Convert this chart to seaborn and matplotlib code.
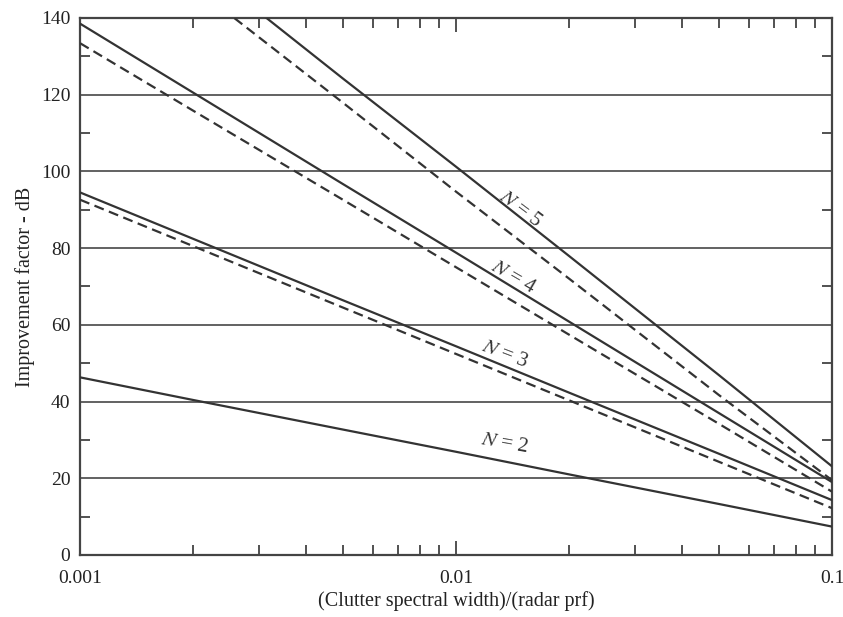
import numpy as np
import pandas as pd
import matplotlib
matplotlib.use("Agg")
import matplotlib.pyplot as plt
import matplotlib.ticker as mticker
import seaborn as sns

# values at these spectral-width ratios
ratio = [0.001, 0.002, 0.005, 0.01, 0.02, 0.05, 0.1]

n2_binomial = [46.3, 40.4, 32.7, 26.9, 21.0, 13.3, 7.4]
n3_binomial = [94.5, 82.4, 66.4, 54.4, 42.3, 26.4, 14.3]
n3_optimum = [92.6, 80.5, 64.5, 52.4, 40.3, 24.3, 12.2]
n4_binomial = [138.5, 120.5, 96.7, 78.8, 60.8, 37.0, 19.0]
n4_optimum = [133.4, 115.8, 92.6, 75.0, 57.4, 34.2, 16.5]
n5_binomial = [178.5, 155.1, 124.2, 101.2, 77.9, 46.9, 23.1]
n5_optimum = [171.1, 148.3, 117.9, 94.7, 72.0, 41.7, 19.5]

labels = ["$N$ = 5", "$N$ = 4", "$N$ = 3", "$N$ = 2"]
label_x = [0.0148, 0.0142, 0.0135, 0.0135]
label_y = [90.0, 72.3, 52.2, 29.0]
label_rot = [-37, -30, -21, -10]

series = {
    ("2", "binomial"): n2_binomial,
    ("3", "binomial"): n3_binomial,
    ("3", "optimum"): n3_optimum,
    ("4", "binomial"): n4_binomial,
    ("4", "optimum"): n4_optimum,
    ("5", "binomial"): n5_binomial,
    ("5", "optimum"): n5_optimum,
}
rows = []
for (n, kind), vals in series.items():
    for x, v in zip(ratio, vals):
        rows.append({"ratio": x, "dB": v, "N": n, "kind": kind})
df = pd.DataFrame(rows)

sns.set_style("white")
plt.rcParams["font.family"] = ["Liberation Serif", "DejaVu Serif"]
plt.rcParams["mathtext.fontset"] = "stix"

ink = "#333333"
fig = plt.figure(figsize=(8.43, 6.17), dpi=100)
ax = fig.add_axes([0.095, 0.1005, 0.892, 0.8705])

for y in range(20, 140, 20):
    ax.axhline(y, color="#555555", lw=1.3, zorder=1)

for (n, kind), grp in df.groupby(["N", "kind"]):
    sns.lineplot(data=grp, x="ratio", y="dB", ax=ax, color=ink, lw=1.6,
                 linestyle="-" if kind == "binomial" else (0, (4.5, 2.5)),
                 legend=False, zorder=3)

ax.set_xscale("log")
ax.set_xlim(0.001, 0.1)
ax.set_ylim(0, 140)
ax.xaxis.set_major_locator(mticker.FixedLocator([0.001, 0.01, 0.1]))
ax.xaxis.set_major_formatter(mticker.FixedFormatter(["0.001", "0.01", "0.1"]))
ax.xaxis.set_minor_locator(mticker.LogLocator(base=10, subs=np.arange(2, 10)))
ax.xaxis.set_minor_formatter(mticker.NullFormatter())
ax.yaxis.set_major_locator(mticker.MultipleLocator(20))
ax.yaxis.set_minor_locator(mticker.MultipleLocator(10))

ax.tick_params(which="both", direction="in", top=True, right=True,
               bottom=True, left=True,
               color=ink, width=1.2, labelsize=14, labelcolor="#222222")
ax.tick_params(axis="y", which="major", length=0, pad=7)
ax.tick_params(axis="x", which="major", length=10, pad=11)
ax.tick_params(which="minor", length=7)
for side in ax.spines.values():
    side.set_color("#444444")
    side.set_linewidth(1.6)

ax.set_xlabel("(Clutter spectral width)/(radar prf)", fontsize=14.5, labelpad=3, color="#222222")
ax.set_ylabel("Improvement factor - dB", fontsize=14.5, labelpad=4, color="#222222")

for t, x, y, r in zip(labels, label_x, label_y, label_rot):
    ax.text(x, y, t, rotation=r, fontsize=15, color=ink, ha="center", va="center", zorder=4)

fig.savefig("out.png", dpi=100, facecolor="white")
